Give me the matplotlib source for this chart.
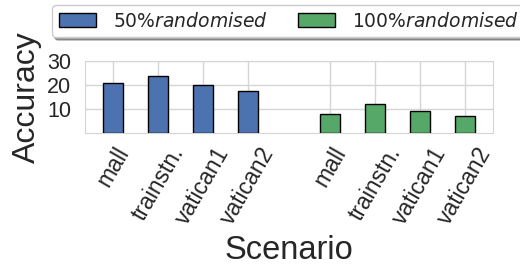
import matplotlib
matplotlib.use("Agg")
import matplotlib.pyplot as plt
import numpy as np

scenarios = ["mall", "trainstn.", "vatican1", "vatican2"]
acc_50 = [20.8, 23.9, 19.8, 17.3]
acc_100 = [7.9, 12.1, 9.0, 6.9]

plt.rcParams['font.family'] = ['Liberation Sans', 'DejaVu Sans']
plt.rcParams['mathtext.fontset'] = 'dejavusans'
plt.rcParams['text.color'] = '#262626'
plt.rcParams['xtick.color'] = '#262626'
plt.rcParams['ytick.color'] = '#262626'
plt.rcParams['axes.labelcolor'] = '#262626'

fig = plt.figure(figsize=(5.2, 2.66), dpi=100)
ax = fig.add_axes([0.1635, 0.5, 0.7845, 0.2707])

pos_50 = np.arange(len(scenarios))
pos_100 = pos_50 + 4.82
w = 0.44

ax.bar(pos_50, acc_50, w, color="#4C72B0", edgecolor="black", linewidth=1.0,
       label=r"$50\%randomised$", zorder=3)
ax.bar(pos_100, acc_100, w, color="#55A868", edgecolor="black", linewidth=1.0,
       label=r"$100\%randomised$", zorder=3)

ax.set_xticks(np.concatenate([pos_50, pos_100]))
ax.set_xticklabels(scenarios + scenarios, rotation=60, ha="center", fontsize=16.5)
ax.set_yticks([10, 20, 30])
ax.tick_params(axis="y", labelsize=15.5, length=0, pad=10)
ax.tick_params(axis="x", length=0, pad=7)
ax.set_xlim(-0.62, pos_100[-1] + 0.62)
ax.set_ylim(0, 30)
ax.grid(True, color="#d5d5d5", linewidth=1.0, zorder=0)
for s in ax.spines.values():
    s.set_color("#d5d5d5")

ax.set_ylabel("Accuracy", fontsize=23, labelpad=4)
ax.set_xlabel("Scenario", fontsize=23.5, labelpad=5)

fig.legend(loc="upper left", bbox_to_anchor=(0.1, 0.981), borderaxespad=0,
           ncol=2, fontsize=13.5, shadow=True, fancybox=True,
           edgecolor="#cccccc", handlelength=2.0, handletextpad=0.9,
           columnspacing=1.6, borderpad=0.35)

fig.savefig("out.png", dpi=100)
